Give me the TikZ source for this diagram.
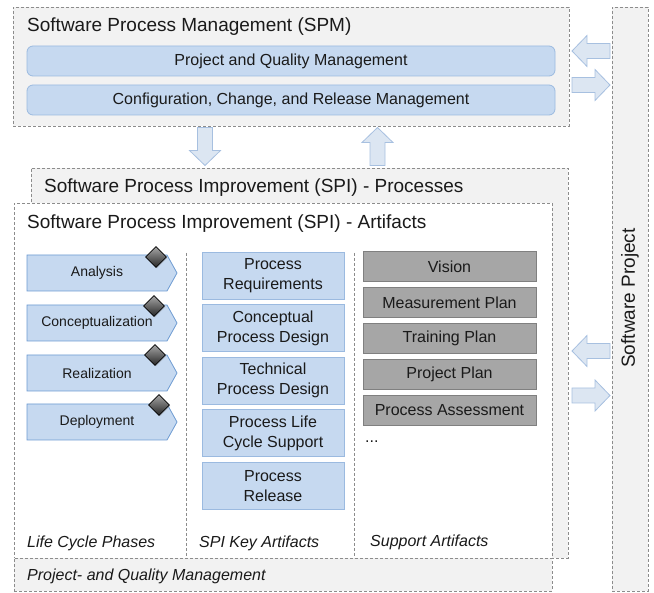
\documentclass[tikz,border=0pt]{standalone}
\usepackage{fontspec}
\setmainfont{Liberation Sans}
\usetikzlibrary{shapes.geometric,shadows}
\definecolor{panelfill}{HTML}{F2F2F2}
\definecolor{panelline}{HTML}{8C8C8C}
\definecolor{barfill}{HTML}{C6D9F0}
\definecolor{barline}{HTML}{9BBAE0}
\definecolor{chevline}{HTML}{6E9BD2}
\definecolor{supfill}{HTML}{A6A6A6}
\definecolor{supline}{HTML}{808080}
\definecolor{arrfill}{HTML}{DCE6F2}
\definecolor{arrline}{HTML}{A7C0E0}
\definecolor{txt}{HTML}{1A1A1A}
\tikzset{
  panel/.style={draw=panelline, fill=panelfill, dash pattern=on 3pt off 2pt, line width=0.8pt, inner sep=0pt, outer sep=0pt, anchor=north west},
  whitepanel/.style={panel, fill=white},
  divider/.style={draw=panelline, dash pattern=on 3pt off 2pt, line width=0.8pt},
  titletext/.style={font=\fontsize{19}{23}\selectfont, text=txt, inner sep=0pt},
  bodytext/.style={font=\fontsize{16}{20}\selectfont, text=txt},
  labeltext/.style={font=\fontsize{16}{20}\selectfont\itshape, text=txt, inner sep=0pt, anchor=base west},
  spmbar/.style={draw=barline, fill=barfill, rounded corners=6pt, line width=0.8pt, minimum width=528pt, minimum height=30pt, bodytext, inner sep=0pt},
  keybox/.style={draw=barline, fill=barfill, line width=0.8pt, minimum width=142pt, minimum height=47pt, bodytext, align=center, inner sep=0pt},
  supbox/.style={draw=supline, fill=supfill, line width=0.8pt, minimum width=173pt, minimum height=30pt, bodytext, inner sep=0pt},
  chevshape/.style={draw=chevline, fill=barfill, line width=0.8pt},
  chevtext/.style={font=\fontsize{14}{17}\selectfont, text=txt},
  diam/.style={diamond, draw=black, line width=0.8pt, top color=black!35, bottom color=black!85, minimum width=21pt, minimum height=21pt, inner sep=0pt, aspect=1, drop shadow={opacity=0.3, shadow xshift=1pt, shadow yshift=-1pt}},
  arrowstyle/.style={draw=arrline, fill=arrfill, line width=0.8pt},
  barrow/.pic={\draw[arrowstyle] (-19,-7.5) -- (4,-7.5) -- (4,-15.5) -- (19,0) -- (4,15.5) -- (4,7.5) -- (-19,7.5) -- cycle;},
  chev/.pic={\draw[chevshape] (0,0) -- (140,0) -- (150,18) -- (140,36) -- (0,36) -- cycle;}
}
\begin{document}
\begin{tikzpicture}[x=1pt, y=-1pt]
\useasboundingbox (0,0) rectangle (654,593);
% panels
\node[panel, minimum width=556pt, minimum height=119pt] (spm) at (13,7) {};
\node[panel, minimum width=36pt, minimum height=584pt] (sproj) at (612,7) {};
\node[panel, minimum width=537pt, minimum height=390pt] (proc) at (31,168) {};
\node[whitepanel, minimum width=538pt, minimum height=355pt] (art) at (14,203) {};
\node[panel, minimum width=538pt, minimum height=33pt] (pqm) at (14,558) {};
% titles
\node[titletext, anchor=base west] (spmt) at (27,32) {Software Process Management (SPM)};
\node[titletext, anchor=base west] (proct) at (44,193) {Software Process Improvement (SPI) - Processes};
\node[titletext, anchor=base west] (artt) at (27,229) {Software Process Improvement (SPI) - Artifacts};
\node[titletext, rotate=90] (sprojt) at (630,298) {Software Project};
% SPM bars
\node[spmbar] (pqmbar) at (291,61) {Project and Quality Management};
\node[spmbar] (ccrbar) at (291,100) {Configuration, Change, and Release Management};
% block arrows
\pic[rotate=180] at (591,51) {barrow};
\pic at (591,85) {barrow};
\pic[rotate=-90] at (205,146.5) {barrow};
\pic[rotate=90] at (377.5,146.5) {barrow};
\pic[rotate=180] at (591,351) {barrow};
\pic at (591,395.5) {barrow};
% dividers
\draw[divider] (186,253) -- (186,558);
\draw[divider] (354,253) -- (354,558);
% life cycle phases
\pic at (27,255) {chev};
\pic at (27,305) {chev};
\pic at (27,355) {chev};
\pic at (27,404) {chev};
\node[chevtext] (ph1) at (97,273) {Analysis};
\node[chevtext] (ph2) at (97,323) {Conceptualization};
\node[chevtext] (ph3) at (97,373) {Realization};
\node[chevtext] (ph4) at (97,422) {Deployment};
\node[diam] (d1) at (156,257) {};
\node[diam] (d2) at (154,306) {};
\node[diam] (d3) at (155,355) {};
\node[diam] (d4) at (159,405) {};
% key artifacts
\node[keybox] (k1) at (273,275.7) {Process\\Requirements};
\node[keybox] (k2) at (273,328.3) {Conceptual\\Process Design};
\node[keybox] (k3) at (273,380.8) {Technical\\Process Design};
\node[keybox] (k4) at (273,433.3) {Process Life\\Cycle Support};
\node[keybox] (k5) at (273,486) {Process\\Release};
% support artifacts
\node[supbox] (s1) at (449.5,266.7) {Vision};
\node[supbox] (s2) at (449.5,302.7) {Measurement Plan};
\node[supbox] (s3) at (449.5,338.7) {Training Plan};
\node[supbox] (s4) at (449.5,374.7) {Project Plan};
\node[supbox] (s5) at (449.5,410.5) {Process Assessment};
\node[bodytext, inner sep=0pt, anchor=base west] (dots) at (365,443) {...};
% column labels
\node[labeltext] (l1) at (27,548) {Life Cycle Phases};
\node[labeltext] (l2) at (199,548) {SPI Key Artifacts};
\node[labeltext] (l3) at (370,547) {Support Artifacts};
\node[labeltext] (l4) at (27,581) {Project- and Quality Management};
\end{tikzpicture}
\end{document}
